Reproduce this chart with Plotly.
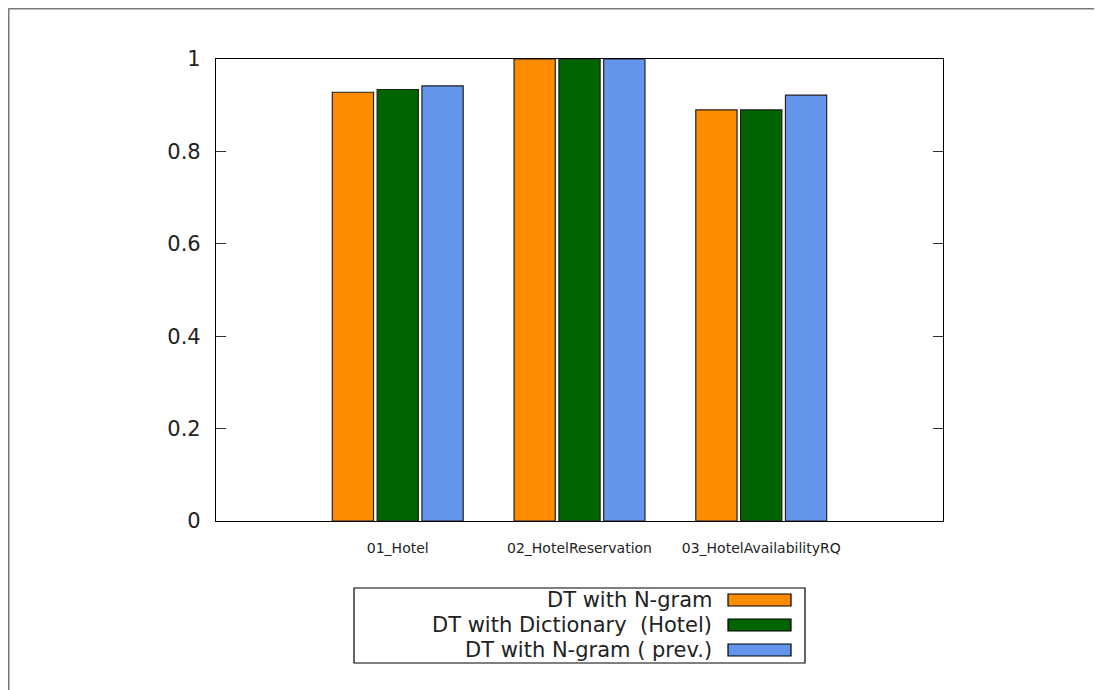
import plotly.graph_objects as go

categories = ["01_Hotel", "02_HotelReservation", "03_HotelAvailabilityRQ"]
series_names = ["DT with N-gram", "DT with Dictionary  (Hotel)", "DT with N-gram ( prev.)"]
ngram = [0.928, 1.0, 0.890]
dictionary = [0.934, 1.0, 0.890]
ngram_prev = [0.942, 1.0, 0.922]
colors = ["#ff8c00", "#006400", "#6495ed"]
y_ticks = [0, 0.2, 0.4, 0.6, 0.8, 1]
y_tick_labels = ["0", "0.2", "0.4", "0.6", "0.8", "1"]

# page has an 8px body margin; work in figure pixels
OFF = 8
W, H = 1102 - OFF, 690 - OFF
L, R, T, B = 216 - OFF, 943 - OFF, 59 - OFF, 521 - OFF

def px(x):
    return (x - OFF - L) / (R - L)

def py(y):
    return (B - (y - OFF)) / (B - T)

FONT = "DejaVu Sans"
fig = go.Figure()
for name, vals, col in zip(series_names, [ngram, dictionary, ngram_prev], colors):
    fig.add_trace(go.Bar(x=categories, y=vals, name=name,
                         marker=dict(color=col, line=dict(color="#222222", width=1.2)),
                         showlegend=False))

fig.update_layout(
    width=W, height=H,
    margin=dict(l=L, r=W - R, t=T, b=H - B),
    paper_bgcolor="white", plot_bgcolor="white",
    barmode="group", bargap=0.26, bargroupgap=0.08,
    font=dict(family=FONT, color="#222222"),
    xaxis=dict(range=[-1, 3], showline=True, linecolor="black", linewidth=1.2, mirror=True,
               ticks="", showgrid=False, zeroline=False, tickfont=dict(size=14, family=FONT),
               ticklabelstandoff=14),
    yaxis=dict(range=[0, 1], tickvals=y_ticks, ticktext=y_tick_labels, showline=True, linecolor="black",
               linewidth=1.2, mirror="ticks", ticks="inside", ticklen=10, tickcolor="#333", tickwidth=1.2,
               showgrid=False, zeroline=False, tickfont=dict(size=21, family=FONT), ticklabelstandoff=10),
)

shapes = []
# outer frame (left and top edge)
shapes.append(dict(type="line", xref="paper", yref="paper", x0=px(8.5), y0=py(700), x1=px(8.5), y1=py(8.5),
                   line=dict(color="#777777", width=2)))
shapes.append(dict(type="line", xref="paper", yref="paper", x0=px(8.5), y0=py(8.5), x1=px(1110), y1=py(8.5),
                   line=dict(color="#777777", width=2)))
# legend box
shapes.append(dict(type="rect", xref="paper", yref="paper", x0=px(354), x1=px(805), y0=py(663), y1=py(588),
                   line=dict(color="black", width=1.2), fillcolor="white"))
annotations = []
row_y = [600, 625, 650]
for name, col, yy in zip(series_names, colors, row_y):
    shapes.append(dict(type="rect", xref="paper", yref="paper", x0=px(728), x1=px(791), y0=py(yy + 6), y1=py(yy - 6),
                       line=dict(color="black", width=1.2), fillcolor=col))
    annotations.append(dict(xref="paper", yref="paper", x=px(714), y=py(yy), xanchor="right", yanchor="middle",
                            text=name, showarrow=False, font=dict(size=21, family=FONT, color="#222222")))
fig.update_layout(shapes=shapes, annotations=annotations)

fig.write_html("out.html")
